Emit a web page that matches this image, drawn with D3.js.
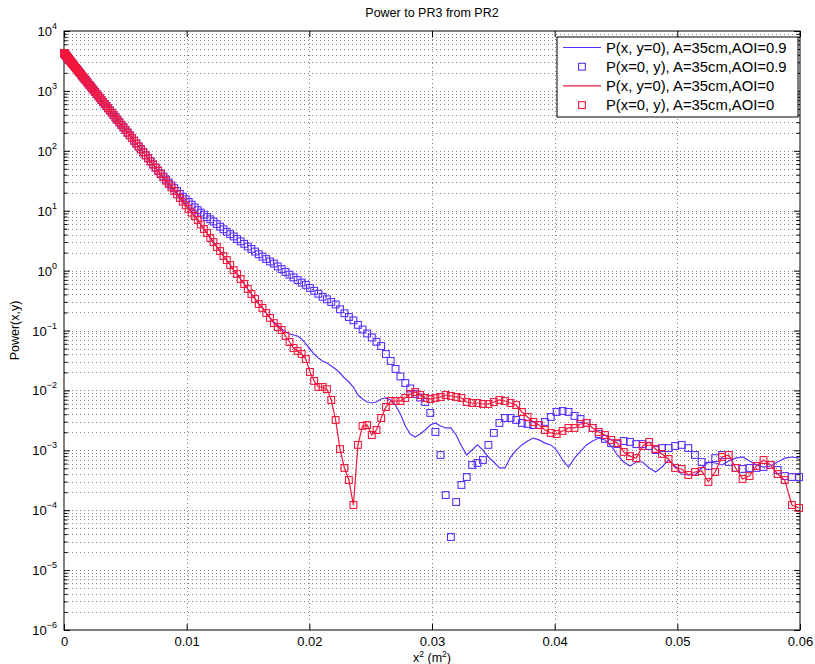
<!DOCTYPE html>
<html>
<head>
<meta charset="utf-8">
<script src="https://cdn.jsdelivr.net/npm/d3@7"></script>
<style>
body { margin: 0; background: #fff; }
text { font-family: "Liberation Sans", Arial, Helvetica, sans-serif; }
</style>
</head>
<body>
<script>
// sample positions along the cut (mm), plotted as x^2 in m^2
const xmm = [
  0,1.2,2.4,3.6,4.8,6,7.2,8.4,9.6,10.8,
  12,13.2,14.4,15.6,16.8,18,19.2,20.4,21.6,22.8,
  24,25.2,26.4,27.6,28.8,30,31.2,32.4,33.6,34.8,
  36,37.2,38.4,39.6,40.8,42,43.2,44.4,45.6,46.8,
  48,49.2,50.4,51.6,52.8,54,55.2,56.4,57.6,58.8,
  60,61.2,62.4,63.6,64.8,66,67.2,68.4,69.6,70.8,
  72,73.2,74.4,75.6,76.8,78,79.2,80.4,81.6,82.8,
  84,85.2,86.4,87.6,88.8,90,91.2,92.4,93.6,94.8,
  96,97.2,98.4,99.6,100.8,102,103.2,104.4,105.6,106.8,
  108,109.2,110.4,111.6,112.8,114,115.2,116.4,117.6,118.8,
  120,121.2,122.4,123.6,124.8,126,127.2,128.4,129.6,130.8,
  132,133.2,134.4,135.6,136.8,138,139.2,140.4,141.6,142.8,
  144,145.2,146.4,147.6,148.8,150,151.2,152.4,153.6,154.8,
  156,157.2,158.4,159.6,160.8,162,163.2,164.4,165.6,166.8,
  168,169.2,170.4,171.6,172.8,174,175.2,176.4,177.6,178.8,
  180,181.2,182.4,183.6,184.8,186,187.2,188.4,189.6,190.8,
  192,193.2,194.4,195.6,196.8,198,199.2,200.4,201.6,202.8,
  204,205.2,206.4,207.6,208.8,210,211.2,212.4,213.6,214.8,
  216,217.2,218.4,219.6,220.8,222,223.2,224.4,225.6,226.8,
  228,229.2,230.4,231.6,232.8,234,235.2,236.4,237.6,238.8,
  240,241.2,242.4,243.6,244.8
]

// main lobe, the same for all four cuts (first 73 samples)
const core = [
  4290,4290,4279,4260,4235,4203,4164,4118,4066,4006,
  3941,3870,3793,3711,3626,3537,3443,3348,3250,3150,
  3050,2945,2840,2734,2627,2519,2411,2304,2198,2093,
  1990,1890,1790,1694,1600,1509,1421,1336,1254,1175,
  1099,1026,956,890,827,766,709,655,605,557,
  512,470,431,394,360,328,299,271,246,223,
  201,182,164,147,132,118,106,94.5,84.2,75.0,
  66.7,59.1,52.4
]

// AOI = 0 (x and y cuts coincide)
const tailAoi0 = [
  46.3,40.9,36.1,31.7,27.9,24.5,21.4,18.7,16.3,14.2,
  12.3,10.7,9.28,8.16,7.0,5.89,4.94,4.24,3.50,3.0,
  2.48,2.12,1.75,1.50,1.24,1.02,0.877,0.724,0.597,0.493,
  0.407,0.336,0.277,0.238,0.196,0.162,0.133,0.114,0.102,0.081,
  0.0643,0.0511,0.0455,0.0405,0.0334,0.0203,0.0144,0.0114,0.0114,0.0105,
  0.00692,0.00321,0.00105,0.000507,0.000319,0.000122,0.00123,0.00255,0.00264,0.0018,
  0.00218,0.00346,0.00528,0.00665,0.00665,0.00665,0.00747,0.00871,0.0094,0.00838,
  0.00747,0.00718,0.00747,0.00776,0.00838,0.00807,0.00776,0.00747,0.0064,0.00616,
  0.00616,0.00593,0.00593,0.0064,0.00692,0.00665,0.00616,0.0057,0.00436,0.0036,
  0.00297,0.00264,0.00218,0.00195,0.00187,0.0021,0.00236,0.00236,0.00275,0.00286,
  0.00236,0.00202,0.0018,0.00149,0.00132,0.00094,0.0008,0.00074,0.00118,0.00138,
  0.00105,0.00087,0.000716,0.000507,0.000488,0.000387,0.000434,0.000451,0.000296,0.000434,
  0.000773,0.000835,0.000507,0.000332,0.000372,0.000547,0.000689,0.000569,0.000402,0.000319,
  0.000122,0.000109
]

// AOI = 0.9, cut along y (squares)
const tailYAoi09 = [
  46.9,41.8,37.2,33.2,29.6,26.4,23.8,21.3,19.1,17.1,
  15.5,14.0,12.6,11.35,10.2,9.29,8.55,7.82,7.18,6.60,
  5.97,5.41,4.89,4.45,4.06,3.72,3.37,3.08,2.80,2.52,
  2.30,2.08,1.88,1.71,1.56,1.42,1.31,1.175,1.06,0.951,
  0.855,0.770,0.697,0.631,0.577,0.514,0.460,0.411,0.366,0.332,
  0.299,0.272,0.226,0.194,0.168,0.148,0.124,0.104,0.0891,0.0764,
  0.0648,0.0551,0.0405,0.031,0.0228,0.0171,0.0133,0.0108,0.00871,0.0076,
  0.0064,0.0042,0.00202,0.000835,0.000179,0.0000357,0.000137,0.000264,0.000358,0.000569,
  0.000614,0.000689,0.00123,0.00195,0.00286,0.00346,0.00346,0.00321,0.00286,0.00275,
  0.00264,0.00264,0.00297,0.0036,0.00436,0.00453,0.00436,0.00374,0.00333,0.00286,
  0.00236,0.00187,0.00155,0.00132,0.00127,0.00143,0.00138,0.00127,0.00127,0.00118,
  0.00101,0.00109,0.00109,0.00118,0.00123,0.00109,0.000835,0.000638,0.000547,0.00074,
  0.000835,0.000638,0.000507,0.000488,0.000507,0.000507,0.000526,0.000569,0.000469,0.000372,
  0.000358,0.000358
]

// AOI = 0.9, cut along x (line)
const tailXAoi09 = [
  46.3,40.9,36.1,31.7,27.9,24.5,21.4,18.7,16.3,14.2,
  12.3,10.7,9.28,8.16,7.0,5.89,4.94,4.24,3.50,3.0,
  2.48,2.12,1.75,1.50,1.24,1.02,0.877,0.724,0.597,0.493,
  0.407,0.336,0.277,0.238,0.196,0.162,0.139,0.124,0.106,0.0944,
  0.0875,0.0841,0.081,0.0722,0.0596,0.0491,0.0405,0.0348,0.031,0.0287,
  0.0255,0.0228,0.0195,0.0161,0.0138,0.0114,0.00838,0.00718,0.0064,0.00616,
  0.0064,0.00718,0.00747,0.00692,0.0057,0.00404,0.00255,0.00187,0.00167,0.00187,
  0.00218,0.00264,0.00286,0.00255,0.00236,0.00236,0.0018,0.00118,0.000835,0.00101,
  0.00123,0.00101,0.000773,0.000638,0.000507,0.000507,0.000773,0.00101,0.00123,0.00143,
  0.0016,0.00149,0.00132,0.00123,0.00101,0.000689,0.000526,0.00074,0.000972,0.00123,
  0.00143,0.0016,0.00149,0.00118,0.000835,0.000638,0.000547,0.000638,0.000638,0.000507,
  0.000434,0.000526,0.000689,0.000547,0.000402,0.000387,0.000387,0.000507,0.000638,0.000614,
  0.000569,0.000662,0.00074,0.000773,0.000662,0.000569,0.000526,0.000547,0.000638,0.00074,
  0.000773,0.00074
]

const pxAoi09 = core.concat(tailXAoi09)
const pyAoi09 = core.concat(tailYAoi09)
const pxAoi0 = core.concat(tailAoi0)
const pyAoi0 = core.concat(tailAoi0)

const xTicks = [0, 0.01, 0.02, 0.03, 0.04, 0.05, 0.06]
const yDecades = [-6, -5, -4, -3, -2, -1, 0, 1, 2, 3, 4]
const legendLabels = [
  "P(x, y=0), A=35cm,AOI=0.9",
  "P(x=0, y), A=35cm,AOI=0.9",
  "P(x, y=0), A=35cm,AOI=0",
  "P(x=0, y), A=35cm,AOI=0"
]

// setup canvas
let width = 815
let height = 664
let mLeft = 64, mRight = 800, mTop = 31, mBottom = 630
let blue = "#5a30ff"
let red = "#f2183c"

let svg = d3.select("body").append("svg")
    .attr("width", width)
    .attr("height", height)

let x = d3.scaleLinear().domain([0, 0.06]).range([mLeft, mRight])
let y = d3.scaleLog().domain([1e-6, 1e4]).range([mBottom, mTop])

let s = xmm.map(d => (d / 1000) * (d / 1000))
let allTicks = y.ticks(20)
let minorTicks = allTicks.filter(t => Math.abs(Math.log10(t) - Math.round(Math.log10(t))) > 1e-6)

// dotted grid
let grid = svg.append("g").attr("class", "grid")
    .attr("stroke", "#666")
    .attr("stroke-width", 0.8)
    .attr("stroke-dasharray", "1,3")

grid.selectAll(".hgrid")
    .data(allTicks.filter(t => t > 1e-6 && t < 1e4))
    .enter()
    .append("line")
        .attr("x1", mLeft).attr("x2", mRight)
        .attr("y1", d => Math.round(y(d)) + 0.5)
        .attr("y2", d => Math.round(y(d)) + 0.5)

grid.selectAll(".vgrid")
    .data(xTicks.slice(1, -1))
    .enter()
    .append("line")
        .attr("y1", mTop).attr("y2", mBottom)
        .attr("x1", d => Math.round(x(d)) + 0.5)
        .attr("x2", d => Math.round(x(d)) + 0.5)

// axes, ticks pointing inwards
function styleAxis(g) {
    g.select(".domain").remove()
    g.selectAll("line").attr("stroke", "#000")
    g.attr("font-family", null).attr("font-size", 13)
    g.selectAll("text").attr("fill", "#000")
}

svg.append("g")
    .attr("transform", `translate(0,${mBottom})`)
    .call(d3.axisBottom(x).tickValues(xTicks).tickSize(-6).tickSizeOuter(0).tickPadding(7)
        .tickFormat(d => d === 0 ? "0" : d3.format(".2f")(d)))
    .call(styleAxis)

svg.append("g")
    .attr("transform", `translate(0,${mTop})`)
    .call(d3.axisTop(x).tickValues(xTicks).tickSize(-6).tickSizeOuter(0).tickFormat(""))
    .call(styleAxis)

svg.append("g")
    .attr("transform", `translate(${mLeft},0)`)
    .call(d3.axisLeft(y).tickValues(minorTicks).tickSize(-3.5).tickSizeOuter(0).tickFormat(""))
    .call(styleAxis)

svg.append("g")
    .attr("transform", `translate(${mRight},0)`)
    .call(d3.axisRight(y).tickValues(minorTicks).tickSize(-3.5).tickSizeOuter(0).tickFormat(""))
    .call(styleAxis)

svg.append("g")
    .attr("transform", `translate(${mLeft},0)`)
    .call(d3.axisLeft(y).tickValues(yDecades.map(e => Math.pow(10, e))).tickSize(-6).tickSizeOuter(0).tickFormat(""))
    .call(styleAxis)

svg.append("g")
    .attr("transform", `translate(${mRight},0)`)
    .call(d3.axisRight(y).tickValues(yDecades.map(e => Math.pow(10, e))).tickSize(-6).tickSizeOuter(0).tickFormat(""))
    .call(styleAxis)

// y tick labels as 10^n
let ylab = svg.append("g").attr("class", "ylabels")
    .selectAll("text")
    .data(yDecades)
    .enter()
    .append("text")
        .attr("x", mLeft - 7)
        .attr("y", d => y(Math.pow(10, d)) + 5)
        .attr("text-anchor", "end")
        .attr("font-size", 13)
ylab.append("tspan").text("10")
ylab.append("tspan").attr("dy", -7).attr("font-size", 9).text(d => d < 0 ? "\u2212" + (-d) : d)

// axes box
svg.append("rect")
    .attr("x", mLeft).attr("y", mTop)
    .attr("width", mRight - mLeft).attr("height", mBottom - mTop)
    .attr("fill", "none").attr("stroke", "#000").attr("stroke-width", 1)

// series
let line = d3.line()
    .x((d, i) => x(s[i]))
    .y(d => y(d))

function drawLine(values, color) {
    svg.append("path")
        .datum(values)
        .attr("d", line)
        .attr("fill", "none")
        .attr("stroke", color)
        .attr("stroke-width", 1.2)
}

function drawSquares(values, color) {
    svg.append("g")
        .selectAll("rect")
        .data(values)
        .enter()
        .append("rect")
            .attr("x", (d, i) => x(s[i]) - 3.4)
            .attr("y", d => y(d) - 3.4)
            .attr("width", 6.8)
            .attr("height", 6.8)
            .attr("fill", "none")
            .attr("stroke", color)
            .attr("stroke-width", 1.1)
}

drawLine(pxAoi09, blue)
drawSquares(pyAoi09, blue)
drawLine(pxAoi0, red)
drawSquares(pyAoi0, red)

// legend
let lg = svg.append("g").attr("transform", "translate(557,37)")
lg.append("rect")
    .attr("width", 241).attr("height", 80)
    .attr("fill", "#fff").attr("stroke", "#000").attr("stroke-width", 1)

let colors = [blue, blue, red, red]
legendLabels.forEach((label, i) => {
    let cy = 10.5 + i * 19.2
    if (i % 2 === 0) {
        lg.append("line")
            .attr("x1", 6).attr("x2", 44)
            .attr("y1", cy).attr("y2", cy)
            .attr("stroke", colors[i]).attr("stroke-width", 1.2)
    } else {
        lg.append("rect")
            .attr("x", 25 - 3.4).attr("y", cy - 3.4)
            .attr("width", 6.8).attr("height", 6.8)
            .attr("fill", "none").attr("stroke", colors[i]).attr("stroke-width", 1.1)
    }
    lg.append("text")
        .attr("x", 49).attr("y", cy + 5)
        .attr("font-size", 14.8)
        .text(label)
})

// title and axis labels
svg.append("text")
    .attr("x", (mLeft + mRight) / 2).attr("y", 17)
    .attr("text-anchor", "middle")
    .attr("font-size", 12.5)
    .text("Power to PR3 from PR2")

svg.append("text")
    .attr("transform", `translate(19,${(mTop + mBottom) / 2}) rotate(-90)`)
    .attr("text-anchor", "middle")
    .attr("font-size", 12.5)
    .text("Power(x,y)")

let xl = svg.append("text")
    .attr("x", (mLeft + mRight) / 2).attr("y", 662)
    .attr("text-anchor", "middle")
    .attr("font-size", 12.5)
xl.append("tspan").text("x")
xl.append("tspan").attr("dy", -5).attr("font-size", 8.5).text("2")
xl.append("tspan").attr("dy", 5).text(" (m")
xl.append("tspan").attr("dy", -5).attr("font-size", 8.5).text("2")
xl.append("tspan").attr("dy", 5).text(")")
</script>
</body>
</html>
